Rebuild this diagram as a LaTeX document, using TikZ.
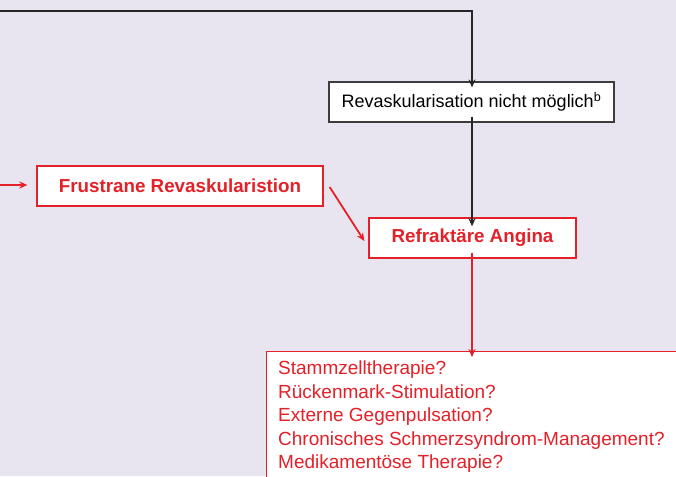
\documentclass[tikz,border=0pt]{standalone}
\usepackage{fontspec}
\setmainfont{Liberation Sans}
\usetikzlibrary{arrows.meta}
\definecolor{bgpanel}{RGB}{232,229,240}
\definecolor{alertred}{RGB}{228,32,40}
\definecolor{boxgray}{RGB}{60,60,60}
\tikzset{
  plainbox/.style={draw=boxgray, line width=1.2pt, fill=white, minimum height=40pt, inner sep=0pt, font=\fontsize{18}{22}\selectfont},
  redbox/.style={draw=alertred, line width=1.3pt, fill=white, minimum height=40pt, inner sep=0pt, text=alertred, font=\bfseries\fontsize{18.8}{22}\selectfont},
  blackarrow/.style={draw=black!85, line width=2pt, -{Stealth[length=8pt,width=7pt]}},
  redarrow/.style={draw=alertred, line width=1.8pt, -{Stealth[length=8pt,width=7pt]}},
}
\begin{document}
\begin{tikzpicture}[x=1pt,y=-1pt]
  \useasboundingbox (0,0) rectangle (676,476);
  \clip (0,0) rectangle (676,476);
  \fill[bgpanel] (0,0) rectangle (676,476);

  % boxes
  \node[plainbox, minimum width=285pt] (rev) at (471.5,102) {Revaskularisation nicht möglich\textsuperscript{b}};
  \node[redbox, minimum width=286pt] (frus) at (180,186) {Frustrane Revaskularistion};
  \node[redbox, minimum width=207pt] (ref) at (472.5,238) {Refraktäre Angina};
  \node[draw=alertred, line width=1.3pt, fill=white, anchor=north west,
        minimum width=430pt, minimum height=140pt, inner sep=0pt] (ther) at (266,351) {};
  \node[anchor=north west, align=left, text=alertred, inner sep=0pt,
        font=\fontsize{19}{23.5}\selectfont] (thertext) at (278,361)
    {Stammzelltherapie?\\Rückenmark-Stimulation?\\Externe Gegenpulsation?\\Chronisches Schmerzsyndrom-Management?\\Medikamentöse Therapie?};

  % connectors
  \coordinate (topin) at (0,11);
  \coordinate (leftin) at (0,185);
  \coordinate (spine) at (472,0);
  \draw[blackarrow] (topin) -- (spine |- topin) -- ([yshift=-6pt]spine |- rev.north);
  \draw[blackarrow] ([yshift=6pt]spine |- rev.south) -- ([yshift=-9pt]spine |- ref.north);
  \draw[redarrow] (leftin) -- ([xshift=-9pt]leftin -| frus.west);
  \draw[redarrow] ([xshift=6pt,yshift=-1pt]frus.east) -- ([xshift=-4pt,yshift=-3pt]ref.west);
  \draw[redarrow] ([yshift=6pt]spine |- ref.south) -- ([yshift=-6pt]spine |- ther.north);
\end{tikzpicture}
\end{document}
